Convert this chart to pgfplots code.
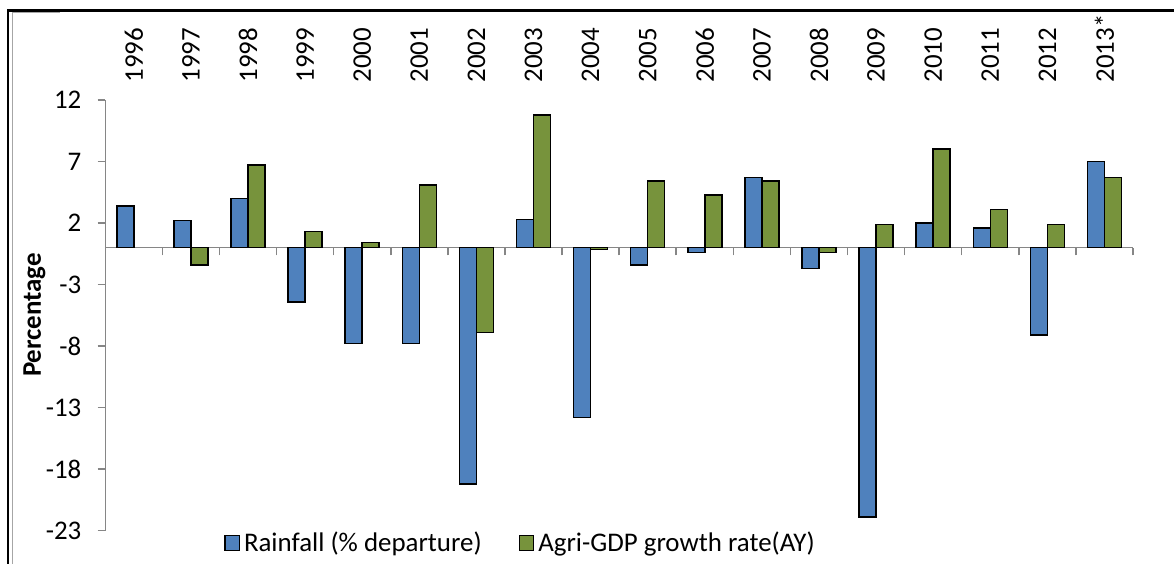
\documentclass[border=0pt]{standalone}
\usepackage{pgfplots}
\pgfplotsset{compat=1.18}
\usepackage{fontspec}
\setmainfont{Carlito}
\definecolor{rainblue}{HTML}{4F81BD}
\definecolor{gdpgreen}{HTML}{77933C}
\definecolor{axgray}{HTML}{868686}
\newcommand{\chartfont}{\fontsize{13.45}{16.1}\selectfont}
\begin{document}
\begin{tikzpicture}
\useasboundingbox (0,0) rectangle (587pt,281.5pt);
% outer frame
\draw[black, line width=1.3pt] (4pt,-1pt) -- (4pt,276.25pt) -- (590pt,276.25pt);
\draw[black!35, line width=0.6pt] (6.2pt,-1pt) -- (6.2pt,275.2pt) -- (30pt,275.2pt);
\begin{axis}[
  at={(52.65pt,16.15pt)}, anchor=south west,
  scale only axis, width=513.85pt, height=215.35pt,
  xmin=-0.5, xmax=17.5, ymin=-23, ymax=12,
  axis y line=left, axis x line=middle,
  x axis line style={-, draw=axgray, line width=0.75pt},
  y axis line style={-, draw=axgray, line width=0.75pt},
  xtick={0.5,1.5,...,17.5}, xticklabels={},
  ytick={-23,-18,-13,-8,-3,2,7,12},
  yticklabels={-23,-18,-13,-8,-3,2,7,12},
  tick align=outside, major tick length=3.8pt,
  tick style={draw=axgray, line width=0.75pt},
  yticklabel style={font=\chartfont, inner sep=0pt, xshift=-8pt},
  ybar=0pt, bar width=8.5pt,
  legend style={at={(0.405,-0.0286)}, anchor=center, draw=none, fill=none,
     font=\chartfont, legend columns=2,
     /tikz/every even column/.append style={column sep=16.5pt}},
  legend image code/.code={\draw[#1, line width=0.6pt] (0pt,-3.6pt) rectangle (7.2pt,3.6pt);},
  clip=false,
]
\addplot[fill=rainblue, draw=black, line width=0.75pt] coordinates {
 (0,3.4) (1,2.2) (2,4.0) (3,-4.4) (4,-7.8) (5,-7.8) (6,-19.2) (7,2.3) (8,-13.8)
 (9,-1.4) (10,-0.4) (11,5.7) (12,-1.7) (13,-21.9) (14,2.0) (15,1.6) (16,-7.1) (17,7.0)};
\addplot[fill=gdpgreen, draw=black, line width=0.75pt] coordinates {
 (1,-1.4) (2,6.7) (3,1.3) (4,0.4) (5,5.1) (6,-6.9) (7,10.8) (8,-0.15)
 (9,5.4) (10,4.3) (11,5.4) (12,-0.4) (13,1.9) (14,8.0) (15,3.1) (16,1.9) (17,5.7)};
\legend{Rainfall (\% departure), Agri-GDP growth rate(AY)}
\node[yshift=8.6pt, rotate=90, anchor=west, inner sep=0pt, font=\chartfont] at (axis cs:0,12) {1996};
\node[yshift=8.6pt, rotate=90, anchor=west, inner sep=0pt, font=\chartfont] at (axis cs:1,12) {1997};
\node[yshift=8.6pt, rotate=90, anchor=west, inner sep=0pt, font=\chartfont] at (axis cs:2,12) {1998};
\node[yshift=8.6pt, rotate=90, anchor=west, inner sep=0pt, font=\chartfont] at (axis cs:3,12) {1999};
\node[yshift=8.6pt, rotate=90, anchor=west, inner sep=0pt, font=\chartfont] at (axis cs:4,12) {2000};
\node[yshift=8.6pt, rotate=90, anchor=west, inner sep=0pt, font=\chartfont] at (axis cs:5,12) {2001};
\node[yshift=8.6pt, rotate=90, anchor=west, inner sep=0pt, font=\chartfont] at (axis cs:6,12) {2002};
\node[yshift=8.6pt, rotate=90, anchor=west, inner sep=0pt, font=\chartfont] at (axis cs:7,12) {2003};
\node[yshift=8.6pt, rotate=90, anchor=west, inner sep=0pt, font=\chartfont] at (axis cs:8,12) {2004};
\node[yshift=8.6pt, rotate=90, anchor=west, inner sep=0pt, font=\chartfont] at (axis cs:9,12) {2005};
\node[yshift=8.6pt, rotate=90, anchor=west, inner sep=0pt, font=\chartfont] at (axis cs:10,12) {2006};
\node[yshift=8.6pt, rotate=90, anchor=west, inner sep=0pt, font=\chartfont] at (axis cs:11,12) {2007};
\node[yshift=8.6pt, rotate=90, anchor=west, inner sep=0pt, font=\chartfont] at (axis cs:12,12) {2008};
\node[yshift=8.6pt, rotate=90, anchor=west, inner sep=0pt, font=\chartfont] at (axis cs:13,12) {2009};
\node[yshift=8.6pt, rotate=90, anchor=west, inner sep=0pt, font=\chartfont] at (axis cs:14,12) {2010};
\node[yshift=8.6pt, rotate=90, anchor=west, inner sep=0pt, font=\chartfont] at (axis cs:15,12) {2011};
\node[yshift=8.6pt, rotate=90, anchor=west, inner sep=0pt, font=\chartfont] at (axis cs:16,12) {2012};
\node[yshift=8.6pt, rotate=90, anchor=west, inner sep=0pt, font=\chartfont] at (axis cs:17,12) {2013*};
\end{axis}
\node[rotate=90, font=\chartfont\bfseries] at (17.25pt,124pt) {Percentage};
\end{tikzpicture}
\end{document}
